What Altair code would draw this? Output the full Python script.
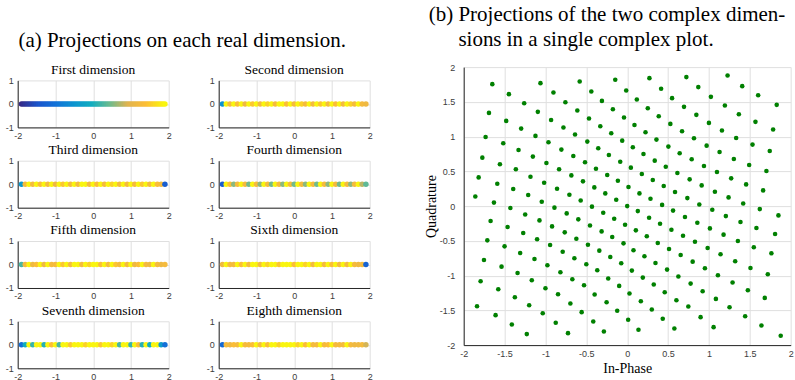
import altair as alt
import pandas as pd

# ------------------------------------------------------------------ data
PANEL_TITLES = ["First dimension", "Second dimension", "Third dimension", "Fourth dimension",
                "Fifth dimension", "Sixth dimension", "Seventh dimension", "Eighth dimension"]

# first real dimension: densely filled from -1.9 to 1.9
PROJ_X_FIRST = [-1.90, -1.85, -1.80, -1.75, -1.70, -1.65, -1.60, -1.55, -1.50, -1.45,
                -1.40, -1.35, -1.30, -1.25, -1.20, -1.15, -1.10, -1.05, -1.00, -0.95,
                -0.90, -0.85, -0.80, -0.75, -0.70, -0.65, -0.60, -0.55, -0.50, -0.45,
                -0.40, -0.35, -0.30, -0.25, -0.20, -0.15, -0.10, -0.05, 0.00, 0.05,
                0.10, 0.15, 0.20, 0.25, 0.30, 0.35, 0.40, 0.45, 0.50, 0.55,
                0.60, 0.65, 0.70, 0.75, 0.80, 0.85, 0.90, 0.95, 1.00, 1.05,
                1.10, 1.15, 1.20, 1.25, 1.30, 1.35, 1.40, 1.45, 1.50, 1.55,
                1.60, 1.65, 1.70, 1.75, 1.80, 1.85, 1.90]

# other dimensions: positions of the visible points
PROJ_X = [-1.9, -1.8, -1.7, -1.6, -1.5, -1.4, -1.3, -1.2, -1.1, -1.0,
          -0.9, -0.8, -0.7, -0.6, -0.5, -0.4, -0.3, -0.2, -0.1, 0.0,
          0.1, 0.2, 0.3, 0.4, 0.5, 0.6, 0.7, 0.8, 0.9, 1.0,
          1.1, 1.2, 1.3, 1.4, 1.5, 1.6, 1.7, 1.8, 1.9]

# colour of the visible (top-most) point = its first-dimension value
COLOR_DIM1 = PROJ_X_FIRST
COLOR_DIM2 = [-0.5, 1.9, 1.3, 1.9, 1.4, 1.9, 1.2, 1.9, 1.5, 1.9,
              1.3, 1.9, 1.6, 1.9, 1.3, 1.9, 1.9, 1.4, 1.9, 1.3,
              1.9, 1.6, 1.3, 1.9, 1.3, 1.9, 1.5, 1.9, 1.3, 1.9,
              1.4, 1.9, 1.3, 1.9, 1.6, 1.3, 1.9, 1.3, 1.2]
COLOR_DIM3 = [-0.4, 1.3, 1.9, 1.3, 1.9, 1.4, 1.9, 1.3, 1.9, 1.2,
              1.9, 1.5, 1.9, 1.3, 1.9, 1.3, 1.9, 1.9, 1.3, 1.9,
              1.4, 1.9, 1.3, 1.9, 1.6, 1.9, 1.3, 1.9, 1.3, 1.9,
              1.3, 1.9, 1.5, 1.9, 1.3, 1.9, 1.4, 1.3, -1.3]
COLOR_DIM4 = [-1.3, 1.9, 1.4, 0.6, 1.3, 1.9, 1.3, 0.5, 1.9, 1.3,
              0.6, 1.9, 1.3, 0.5, 1.9, 1.3, 0.6, 1.9, 1.3, 0.5,
              1.9, 1.3, 0.6, 1.9, 1.3, 0.5, 1.9, 1.3, 0.6, 1.9,
              1.3, 0.5, 1.9, 1.3, 0.6, 1.3, 1.9, 0.8, 0.4]
COLOR_DIM5 = [0.3, 1.3, 1.9, 1.2, 1.4, 1.9, 1.2, 1.9, 1.3, 1.3,
              1.9, 1.5, 1.9, 1.3, 1.9, 1.9, 1.3, 1.9, 1.6, 1.9,
              1.9, 1.4, 1.9, 1.3, 1.9, 1.5, 1.3, 1.9, 1.3, 1.9,
              1.2, 1.4, 1.9, 1.3, 1.2, 1.9, 1.3, 1.2, 1.3]
COLOR_DIM6 = [1.2, 1.9, 1.3, 1.3, 1.9, 1.4, 1.9, 1.3, 1.9, 1.9,
              1.3, 1.9, 1.6, 1.9, 1.9, 1.5, 1.9, 1.9, 1.9, 1.4,
              1.9, 1.9, 1.6, 1.9, 1.3, 1.9, 1.9, 1.3, 1.9, 1.4,
              1.9, 1.3, 1.9, 1.3, 1.9, 1.3, 1.2, 1.3, -1.2]
COLOR_DIM7 = [-1.0, 0.0, 1.9, 0.2, 1.9, 1.9, 0.1, 1.9, 1.4, 1.9,
              0.3, 1.9, 1.9, 1.5, 1.9, 1.9, 1.9, 1.6, 1.9, 1.9,
              1.9, 1.5, 1.9, 1.9, 1.6, 1.9, 0.3, 1.9, 1.9, 0.2,
              1.9, 1.4, 0.1, 1.9, 0.0, 1.9, 1.9, -0.3, -1.0]
COLOR_DIM8 = [-1.1, 1.3, 1.2, 1.4, 1.3, 1.9, 1.3, 1.3, 1.4, 1.9,
              1.3, 1.9, 1.4, 1.9, 1.9, 1.6, 1.9, 1.9, 1.9, 1.9,
              1.6, 1.9, 1.4, 1.9, 1.3, 1.3, 1.9, 1.3, 1.4, 1.9,
              1.3, 1.3, 1.3, 1.9, 1.3, 1.2, 1.2, 1.3, 0.9]
PANEL_POSITIONS = [PROJ_X_FIRST, PROJ_X, PROJ_X, PROJ_X, PROJ_X, PROJ_X, PROJ_X, PROJ_X]
PANEL_COLORS = [COLOR_DIM1, COLOR_DIM2, COLOR_DIM3, COLOR_DIM4,
                COLOR_DIM5, COLOR_DIM6, COLOR_DIM7, COLOR_DIM8]

# complex constellation, four quadrants
IN_PHASE = [
    # upper left
    -1.650, -1.447, -1.061, -0.902, -0.581, -0.439, -0.146, -0.012, -1.691, -1.260,
    -1.480, -1.093, -0.756, -0.931, -0.610, -0.309, -0.467, -0.175, -0.039, -1.732,
    -1.297, -1.516, -1.122, -0.780, -0.963, -0.638, -0.329, -0.488, -0.195, -0.061,
    -1.772, -1.329, -1.557, -1.154, -0.805, -0.988, -0.659, -0.516, -0.354, -0.224,
    -0.085, -0.382, -1.817, -1.362, -1.589, -1.183, -0.833, -1.016, -0.683, -0.541,
    -0.244, -0.402, -0.114, -1.858, -1.394, -1.630, -1.211, -0.858, -1.045, -0.707,
    -0.569, -0.268, -0.431, -0.134, -1.429, -0.890, 0.000,
    # upper right
    0.272, 0.415, 0.118, 0.724, 0.870, 0.549, 1.228, 1.407, 1.024, 1.602,
    1.829, 0.252, 0.386, 0.089, 0.695, 0.846, 0.528, 1.195, 1.366, 1.000,
    1.569, 1.785, 0.224, 0.358, 0.069, 0.671, 0.817, 0.504, 1.159, 1.333,
    0.972, 1.533, 1.744, 0.199, 0.337, 0.045, 0.642, 0.789, 0.472, 1.130,
    1.305, 0.939, 1.492, 1.703, 0.179, 0.313, 0.016, 0.614, 0.764, 0.447,
    1.098, 1.272, 0.911, 1.455, 1.663, 0.150, 0.285, 0.585, 0.736, 0.427,
    1.073, 1.240, 0.882, 1.419, 1.622,
    # lower left
    -1.671, -1.248, -1.463, -1.073, -0.740, -0.919, -0.598, -0.293, -0.455, -0.159,
    -0.026, -1.711, -1.272, -1.500, -1.102, -0.764, -0.943, -0.622, -0.313, -0.480,
    -0.183, -0.045, -1.752, -1.309, -1.537, -1.134, -0.789, -0.976, -0.646, -0.341,
    -0.500, -0.207, -0.073, -1.793, -1.341, -1.577, -1.167, -0.817, -1.000, -0.671,
    -0.366, -0.528, -0.232, -0.098, -1.837, -1.374, -1.610, -1.199, -0.846, -1.033,
    -0.695, -0.557, -0.252, -0.415, -0.122, -1.411, -1.228, -0.874, -0.724, -0.285,
    -0.398,
    # lower right
    0.130, 0.561, 1.041, 0.268, 0.707, 1.207, 1.850, 0.402, 0.106, 0.541,
    0.858, 0.683, 1.012, 1.386, 1.179, 1.581, 1.809, 0.240, 0.374, 0.077,
    0.512, 0.829, 0.654, 0.984, 1.354, 1.142, 1.549, 1.764, 0.211, 0.346,
    0.057, 0.488, 0.801, 0.626, 0.951, 1.321, 1.110, 1.508, 1.720, 0.191,
    0.325, 0.028, 0.459, 0.776, 0.602, 0.923, 1.289, 1.085, 1.476, 1.683,
    0.167, 0.301, 0.012, 0.435, 0.748, 0.577, 0.898, 1.252, 1.057, 1.443,
    1.642, 1.878, 0.138,
]
QUADRATURE = [
    # upper left
    1.755, 1.611, 1.769, 1.635, 1.793, 1.649, 1.817, 1.663, 1.341, 1.481,
    1.226, 1.356, 1.495, 1.240, 1.375, 1.514, 1.260, 1.394, 1.274, 0.995,
    1.115, 0.904, 1.010, 1.130, 0.918, 1.029, 1.149, 0.928, 1.048, 0.942,
    0.697, 0.808, 0.601, 0.712, 0.813, 0.620, 0.721, 0.630, 0.832, 0.736,
    0.639, 0.538, 0.413, 0.529, 0.322, 0.423, 0.529, 0.337, 0.442, 0.356,
    0.447, 0.269, 0.365, 0.139, 0.245, 0.050, 0.159, 0.250, 0.062, 0.163,
    0.080, 0.183, -0.008, 0.091, -0.028, -0.022, 0.000,
    # upper right
    1.841, 1.688, 1.534, 1.856, 1.712, 1.553, 1.880, 1.726, 1.572, 1.596,
    1.457, 1.409, 1.293, 1.168, 1.428, 1.313, 1.183, 1.447, 1.322, 1.197,
    1.212, 1.101, 1.062, 0.957, 0.846, 1.077, 0.976, 0.856, 1.087, 0.981,
    0.870, 0.885, 0.793, 0.750, 0.654, 0.553, 0.760, 0.673, 0.567, 0.779,
    0.678, 0.577, 0.591, 0.505, 0.462, 0.375, 0.274, 0.476, 0.385, 0.288,
    0.490, 0.399, 0.298, 0.312, 0.226, 0.183, 0.106, 0.202, 0.115, 0.017,
    0.207, 0.125, 0.022, 0.038, -0.043,
    # lower left
    -0.215, -0.120, -0.301, -0.206, -0.105, -0.292, -0.191, -0.096, -0.278, -0.182,
    -0.268, -0.493, -0.388, -0.579, -0.478, -0.378, -0.560, -0.469, -0.364, -0.555,
    -0.445, -0.536, -0.775, -0.675, -0.871, -0.761, -0.656, -0.852, -0.751, -0.641,
    -0.837, -0.732, -0.823, -1.081, -0.962, -1.196, -1.067, -0.952, -1.182, -1.053,
    -0.923, -1.139, -1.043, -1.148, -1.440, -1.311, -1.569, -1.426, -1.268, -1.541,
    -1.402, -1.526, -1.383, -1.660, -1.507, -1.703, -1.842, -1.679, -1.828, -1.804,
    -1.273,
    # lower right
    -0.072, -0.065, -0.052, -0.167, -0.158, -0.144, -0.134, -0.254, -0.349, -0.340,
    -0.239, -0.426, -0.321, -0.230, -0.411, -0.316, -0.402, -0.435, -0.531, -0.636,
    -0.617, -0.512, -0.703, -0.603, -0.502, -0.694, -0.593, -0.679, -0.722, -0.818,
    -0.928, -0.914, -0.799, -1.014, -0.895, -0.794, -0.995, -0.890, -0.981, -1.029,
    -1.129, -1.258, -1.239, -1.115, -1.354, -1.225, -1.100, -1.335, -1.211, -1.321,
    -1.368, -1.488, -1.636, -1.622, -1.445, -1.761, -1.598, -1.455, -1.742, -1.584,
    -1.718, -1.866, -1.780,
]

PANEL_X_TICKS = [-2, -1, 0, 1, 2]
PANEL_Y_TICKS = [-1, 0, 1]
IQ_TICKS = [-2, -1.5, -1, -0.5, 0, 0.5, 1, 1.5, 2]

CAPTION_A = "(a) Projections on each real dimension."
CAPTION_B1 = "(b) Projections of the two complex dimen-"
CAPTION_B2 = "sions in a single complex plot."

# ------------------------------------------------------------------ style
SERIF = "Liberation Serif"
SANS = "Liberation Sans"
INK = "#262626"
LABEL = "#3c3c3c"
GRID = "#dfdfdf"
GREEN = "#008000"
PARULA = ["#352a87", "#1a55cc", "#1272d8", "#0c94d0", "#12adbf",
          "#6cbb8e", "#e0b450", "#fcbd36", "#f9f50f"]
PARULA_STOPS = [-1.9, -1.425, -0.95, -0.475, 0.0, 0.475, 0.95, 1.425, 1.9]


def make_axis(values, label_padding, **kw):
    return alt.Axis(values=values, grid=True, gridColor=GRID, gridWidth=1,
                    domainColor=INK, domainWidth=1, ticks=False,
                    labelFont=SANS, labelFontSize=9, labelColor=LABEL,
                    labelPadding=label_padding, labelFlush=False,
                    labelExpr="toString(datum.value)", **kw)


def caption(text, px, py, size, align="left"):
    """A line of caption text, placed in pixels relative to its view."""
    return (
        alt.Chart(pd.DataFrame({"caption": [text]}))
        .mark_text(font=SERIF, fontSize=size, align=align, baseline="alphabetic",
                   color="black")
        .encode(text="caption:N", x=alt.value(px), y=alt.value(py))
    )


def projection_panel(title, positions, colors):
    df = pd.DataFrame({"value": positions, "first": colors})
    points = (
        alt.Chart(df)
        .mark_circle(size=30, opacity=1)
        .encode(
            x=alt.X("value:Q", scale=alt.Scale(domain=[-2, 2], nice=False, zero=False),
                    axis=make_axis(PANEL_X_TICKS, 4, title=None)),
            y=alt.YDatum(0, type="quantitative",
                         scale=alt.Scale(domain=[-1, 1], nice=False, zero=False),
                         axis=make_axis(PANEL_Y_TICKS, 4.5, title=None)),
            color=alt.Color("first:Q", legend=None,
                            scale=alt.Scale(domain=PARULA_STOPS, range=PARULA,
                                            interpolate="rgb")),
        )
    )
    return alt.layer(points, caption(title, 75.5, -6.7, 13.5, "center")).properties(
        width=151, height=47)


panels = [projection_panel(t, p, c)
          for t, p, c in zip(PANEL_TITLES, PANEL_POSITIONS, PANEL_COLORS)]

grid = alt.concat(*panels, columns=2, spacing={"row": 33.3, "column": 50},
                  bounds="flush")
spacer = caption(CAPTION_A, 0.7, -20, 21).properties(width=352, height=1)
left = alt.vconcat(spacer, grid, spacing=12.3, bounds="flush")

iq = pd.DataFrame({"in_phase": IN_PHASE, "quadrature": QUADRATURE})
constellation = (
    alt.Chart(iq)
    .mark_circle(size=21, color=GREEN, opacity=1)
    .encode(
        x=alt.X("in_phase:Q", scale=alt.Scale(domain=[-2, 2], nice=False, zero=False),
                axis=make_axis(IQ_TICKS, 4, title="In-Phase", titleFont=SERIF,
                               titleFontSize=14, titleFontWeight="normal",
                               titleColor="black", titlePadding=3)),
        y=alt.Y("quadrature:Q", scale=alt.Scale(domain=[-2, 2], nice=False, zero=False),
                axis=make_axis(IQ_TICKS, 9, title="Quadrature", titleFont=SERIF,
                               titleFontSize=14, titleFontWeight="normal",
                               titleColor="black", titlePadding=1)),
    )
)
right = alt.layer(
    constellation,
    caption(CAPTION_B1, -35, -46, 21),
    caption(CAPTION_B2, -5.3, -20.7, 21),
).properties(width=327, height=278)

chart = (
    alt.hconcat(left, right, spacing=51)
    .properties(padding={"left": 4.7, "top": 4.1, "right": 0, "bottom": 0})
    .configure_view(stroke=None)
)

chart.save("out.html", embed_options={"renderer": "svg", "actions": False})
